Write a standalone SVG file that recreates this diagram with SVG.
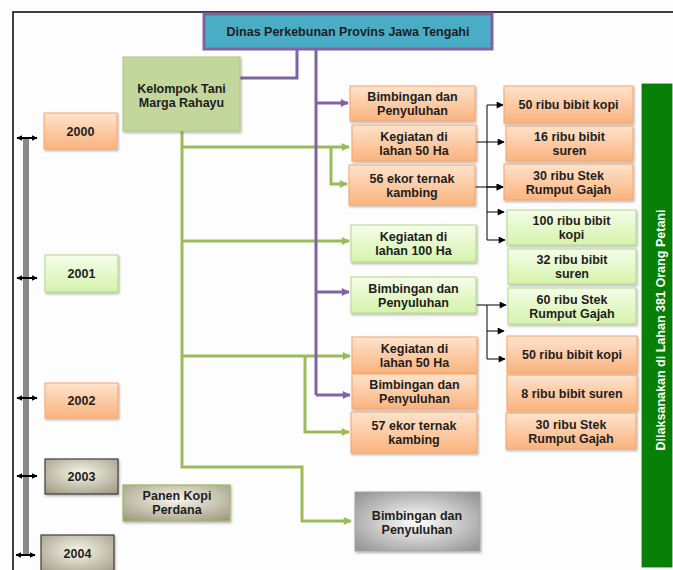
<svg xmlns="http://www.w3.org/2000/svg" width="673" height="570" viewBox="0 0 673 570">
<defs>
<linearGradient id="gOr" x1="0" y1="0" x2="0" y2="1"><stop offset="0" stop-color="#FEE3CC"/><stop offset="1" stop-color="#FAB37E"/></linearGradient>
<linearGradient id="gGr" x1="0" y1="0" x2="0" y2="1"><stop offset="0" stop-color="#F5FDEA"/><stop offset="1" stop-color="#D5F3AB"/></linearGradient>
<radialGradient id="gBe" cx="0.5" cy="0.4" r="0.75"><stop offset="0" stop-color="#F8F6EA"/><stop offset="1" stop-color="#9C9780"/></radialGradient>
<radialGradient id="gGy" cx="0.5" cy="0.5" r="0.7"><stop offset="0" stop-color="#FFFFFF"/><stop offset="1" stop-color="#8F8F8F"/></radialGradient>
<filter id="sh" x="-10%" y="-10%" width="125%" height="130%"><feDropShadow dx="1" dy="1.5" stdDeviation="1.2" flood-color="#000" flood-opacity="0.3"/></filter>
<marker id="aG" viewBox="0 0 10 10" refX="9" refY="5" markerWidth="9" markerHeight="8" markerUnits="userSpaceOnUse" orient="auto"><path d="M0 0L10 5L0 10z" fill="#9BBB59"/></marker>
<marker id="aP" viewBox="0 0 10 10" refX="9" refY="5" markerWidth="9" markerHeight="8" markerUnits="userSpaceOnUse" orient="auto"><path d="M0 0L10 5L0 10z" fill="#8064A2"/></marker>
<marker id="aK" viewBox="0 0 10 10" refX="9" refY="5" markerWidth="8" markerHeight="7" markerUnits="userSpaceOnUse" orient="auto"><path d="M0 0L10 5L0 10z" fill="#000"/></marker>
<marker id="tk" viewBox="0 0 10 10" refX="9" refY="5" markerWidth="6" markerHeight="6" markerUnits="userSpaceOnUse" orient="auto-start-reverse"><path d="M0 0L10 5L0 10z" fill="#000"/></marker>
</defs>
<style>
text{font-family:"Liberation Sans",Arial,sans-serif;font-weight:bold;font-size:12.5px;fill:#1E1E1E;text-anchor:middle}
.or{fill:url(#gOr);stroke:#F6A66B;stroke-width:1;filter:url(#sh)}
.gr{fill:url(#gGr);stroke:#B3D989;stroke-width:1;filter:url(#sh)}
.be{fill:url(#gBe);stroke:#3F3F3F;stroke-width:1.2;filter:url(#sh)}
.g{fill:none;stroke:#9BBB59;stroke-width:3}
.p{fill:none;stroke:#8064A2;stroke-width:3}
.k{fill:none;stroke:#000;stroke-width:1}
.ga{marker-end:url(#aG)}
.pa{marker-end:url(#aP)}
.ka{marker-end:url(#aK)}
</style>
<rect x="0" y="0" width="673" height="570" fill="#FDFDFD"/>
<path d="M13 570V12H673" fill="none" stroke="#000" stroke-width="1.5"/>

<g id="timeline">
<rect x="23.5" y="138" width="5" height="417" fill="#8A8A8A" stroke="#5E5E5E" stroke-width="0.6"/>
<g stroke="#000" stroke-width="2" marker-start="url(#tk)" marker-end="url(#tk)">
<line x1="17" y1="138" x2="37" y2="138"/>
<line x1="17" y1="278" x2="37" y2="278"/>
<line x1="17" y1="398" x2="37" y2="398"/>
<line x1="17" y1="476" x2="37" y2="476"/>
<line x1="16" y1="555" x2="35" y2="555"/>
</g>
</g>

<g id="connectors">
<path class="g" d="M182 131V467H302V521H351" style="marker-end:url(#aG)"/>
<path class="g ga" d="M182 147H349"/>
<path class="g ga" d="M331 147V184H347"/>
<path class="g ga" d="M182 241H349"/>
<path class="g ga" d="M182 356H350"/>
<path class="g ga" d="M305 356V432H349"/>
<path class="p" d="M297 50V78H240"/>
<path class="p" d="M316 50V395"/>
<path class="p pa" d="M316 103H348"/>
<path class="p pa" d="M316 292H349"/>
<path class="p pa" d="M316 395H350"/>
<path class="k ka" d="M476 142H504"/>
<path class="k ka" d="M475 187H503"/>
<path class="k" d="M487 105V240"/>
<path class="k ka" d="M487 105H503"/>
<path class="k ka" d="M487 187H503"/>
<path class="k ka" d="M487 212H504"/>
<path class="k ka" d="M487 240H505"/>
<path class="k ka" d="M476 305H506"/>
<path class="k" d="M487 305V359"/>
<path class="k ka" d="M487 331H504"/>
<path class="k ka" d="M487 359H505"/>
</g>

<g id="title"><rect x="204" y="14" width="288" height="35" fill="#4BACC6" stroke="#8064A2" stroke-width="3"/><text x="348" y="36" font-size="12">Dinas Perkebunan  Provins Jawa Tengahi</text></g>
<g id="kelompok"><rect x="123" y="57" width="117" height="74" fill="#C3D69B" stroke="#B1C684" stroke-width="1" filter="url(#sh)"/><text x="181.5" y="92.5">Kelompok Tani</text><text x="181.5" y="106.5">Marga Rahayu</text></g>

<g id="y2000"><rect class="or" x="44" y="113" width="73" height="36"/><text x="80.5" y="135.5">2000</text></g>
<g id="y2001"><rect class="gr" x="45" y="255" width="73" height="37"/><text x="81.5" y="278">2001</text></g>
<g id="y2002"><rect class="or" x="45" y="383" width="73" height="35"/><text x="81.5" y="405">2002</text></g>
<g id="y2003"><rect class="be" x="45" y="459" width="73" height="35"/><text x="81.5" y="481">2003</text></g>
<g id="y2004"><rect class="be" x="41" y="535" width="73" height="40"/><text x="77.5" y="557.5">2004</text></g>
<g id="panen"><rect x="123" y="485" width="107" height="36" fill="url(#gBe)" stroke="#9BBB59" stroke-width="1.2" filter="url(#sh)"/><text x="177" y="499.5">Panen Kopi</text><text x="177" y="514">Perdana</text></g>
<g id="bimbingan2004"><rect x="355" y="492" width="125" height="59" fill="url(#gGy)" stroke="#A3A3A3" stroke-width="1" filter="url(#sh)"/><text x="417" y="519.5">Bimbingan dan</text><text x="417" y="533.5">Penyuluhan</text></g>

<g id="m1"><rect class="or" x="350" y="86" width="125" height="35"/><text x="412.5" y="101">Bimbingan dan</text><text x="412.5" y="115">Penyuluhan</text></g>
<g id="m2"><rect class="or" x="352" y="125" width="124" height="36"/><text x="414" y="140.5">Kegiatan  di</text><text x="414" y="154.5">lahan 50 Ha</text></g>
<g id="m3"><rect class="or" x="349" y="165" width="126" height="40"/><text x="412" y="182.5">56 ekor ternak</text><text x="412" y="196.5">kambing</text></g>
<g id="m4"><rect class="gr" x="351" y="225" width="125" height="37"/><text x="413.5" y="241">Kegiatan  di</text><text x="413.5" y="255">lahan 100 Ha</text></g>
<g id="m5"><rect class="gr" x="351" y="277" width="125" height="36"/><text x="413.5" y="292.5">Bimbingan dan</text><text x="413.5" y="306.5">Penyuluhan</text></g>
<g id="m6"><rect class="or" x="352" y="337" width="125" height="36"/><text x="414.5" y="352.5">Kegiatan  di</text><text x="414.5" y="366.5">lahan 50 Ha</text></g>
<g id="m7"><rect class="or" x="352" y="374" width="125" height="35"/><text x="414.5" y="389">Bimbingan dan</text><text x="414.5" y="403">Penyuluhan</text></g>
<g id="m8"><rect class="or" x="351" y="412" width="126" height="41"/><text x="414" y="430">57 ekor ternak</text><text x="414" y="444">kambing</text></g>

<g id="r1"><rect class="or" x="504" y="86" width="129" height="37"/><text x="568.5" y="109">50 ribu bibit kopi</text></g>
<g id="r2"><rect class="or" x="506" y="126" width="127" height="35"/><text x="569.5" y="141">16 ribu bibit</text><text x="569.5" y="155">suren</text></g>
<g id="r3"><rect class="or" x="504" y="164" width="129" height="36"/><text x="568.5" y="179.5">30 ribu Stek</text><text x="568.5" y="193.5">Rumput Gajah</text></g>
<g id="r4"><rect class="gr" x="507" y="210" width="129" height="35"/><text x="571.5" y="225">100 ribu bibit</text><text x="571.5" y="239">kopi</text></g>
<g id="r5"><rect class="gr" x="508" y="249" width="128" height="35"/><text x="572" y="264">32 ribu bibit</text><text x="572" y="278">suren</text></g>
<g id="r6"><rect class="gr" x="508" y="288" width="128" height="36"/><text x="572" y="303.5">60 ribu Stek</text><text x="572" y="317.5">Rumput Gajah</text></g>
<g id="r7"><rect class="or" x="507" y="336" width="130" height="37"/><text x="572" y="359">50 ribu bibit kopi</text></g>
<g id="r8"><rect class="or" x="507" y="375" width="130" height="36"/><text x="572" y="397.5">8 ribu bibit suren</text></g>
<g id="r9"><rect class="or" x="506" y="413" width="130" height="36"/><text x="571" y="428.5">30 ribu Stek</text><text x="571" y="442.5">Rumput Gajah</text></g>

<g id="bar"><rect x="642" y="84" width="30" height="483" fill="#087F07" stroke="#0A6E0A" stroke-width="0.8"/><text transform="translate(665 330) rotate(-90)" font-size="12" textLength="241" lengthAdjust="spacingAndGlyphs" style="fill:#FFFFFF">Dilaksanakan  di Lahan 381 Orang Petani</text></g>
</svg>
